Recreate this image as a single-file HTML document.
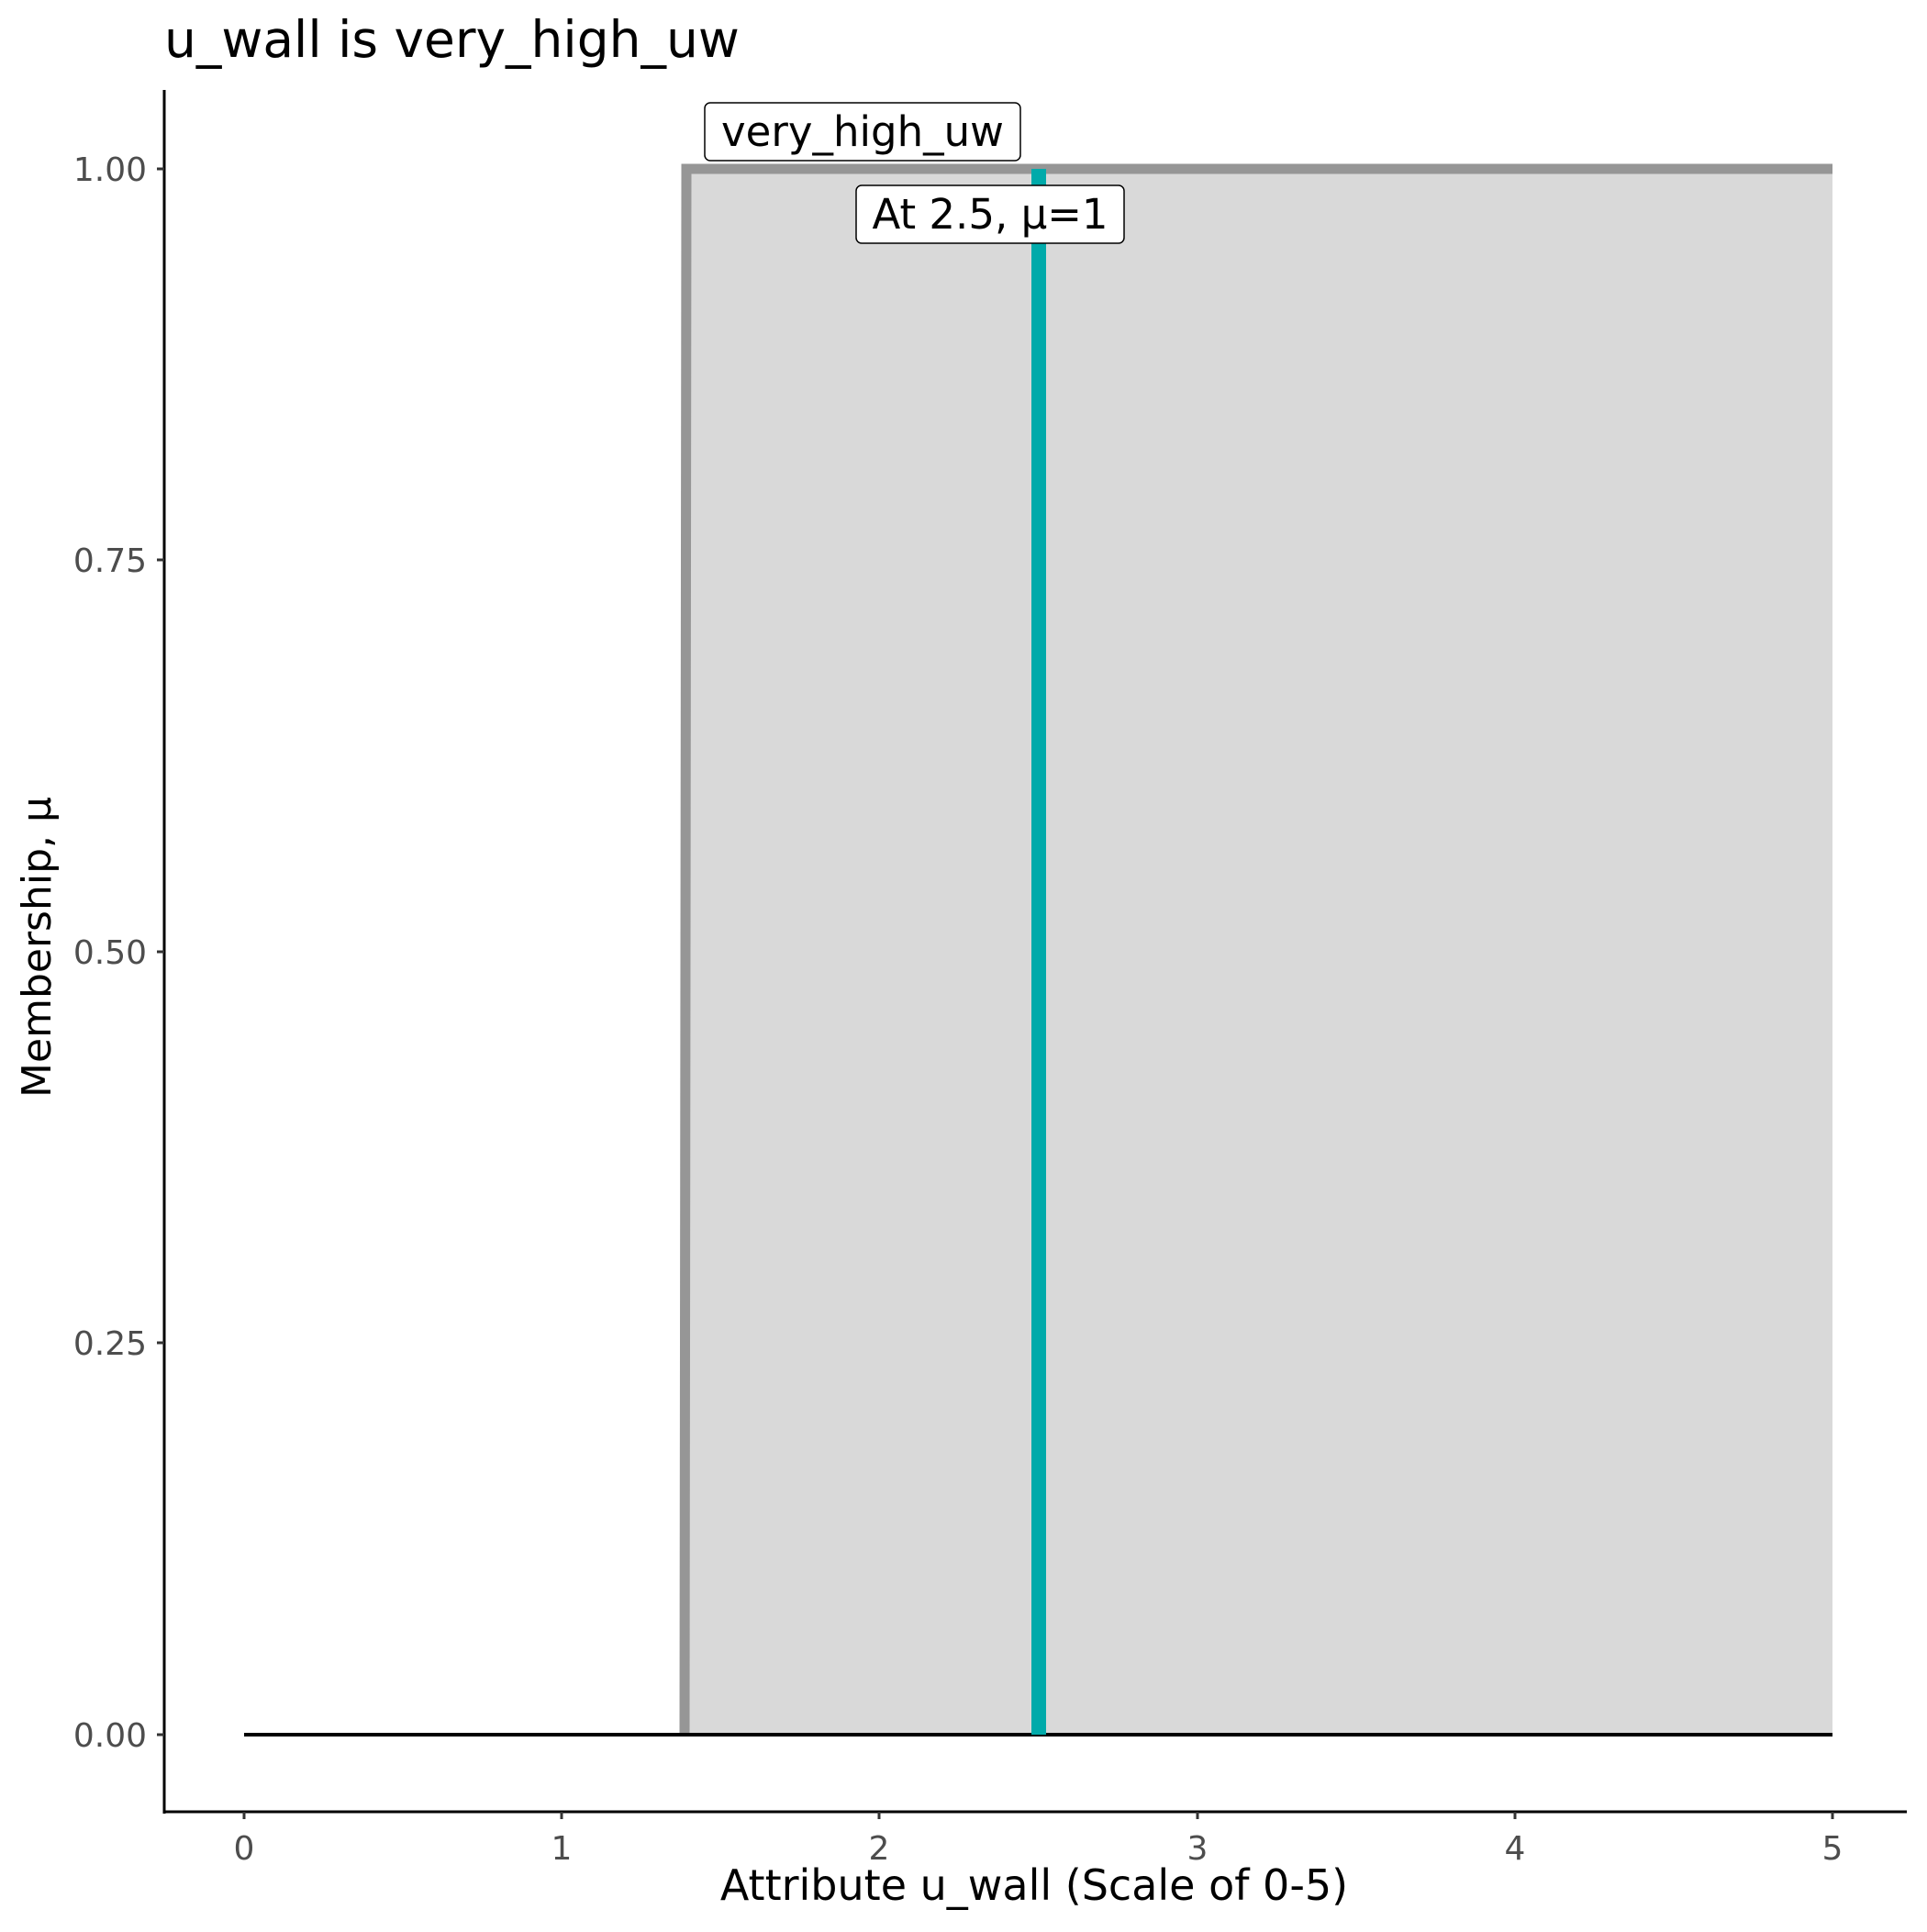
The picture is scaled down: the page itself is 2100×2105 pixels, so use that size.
<!DOCTYPE html>
<html><head><meta charset="utf-8"><style>body{margin:0;background:#fff}</style></head><body>
<svg width="2100" height="2100" xmlns="http://www.w3.org/2000/svg" font-family="DejaVu Sans, Liberation Sans, sans-serif">
<rect width="2100" height="2100" fill="#fff"/>
<text x="179" y="62" font-size="55" fill="#000">u_wall is very_high_uw</text>
<rect x="747" y="184" width="1250" height="1706" fill="#d9d9d9"/>
<polyline points="746,1890 748,184 1997,184" fill="none" stroke="#969696" stroke-width="11"/>
<line x1="266" y1="1890" x2="1997" y2="1890" stroke="#000" stroke-width="4"/>
<line x1="1132" y1="184" x2="1132" y2="1890" stroke="#00aaaa" stroke-width="16"/>
<rect x="768" y="112" width="344" height="63" rx="6" fill="#fff" stroke="#000" stroke-width="1.5"/>
<text x="940" y="159" font-size="45" text-anchor="middle">very_high_uw</text>
<rect x="933" y="202" width="292" height="63" rx="6" fill="#fff" stroke="#000" stroke-width="1.5"/>
<text x="1079" y="249" font-size="45" text-anchor="middle">At 2.5, μ=1</text>
<line x1="179" y1="98" x2="179" y2="1976" stroke="#000" stroke-width="3"/>
<line x1="178" y1="1974" x2="2078" y2="1974" stroke="#000" stroke-width="3"/>
<g stroke="#333" stroke-width="3">
<line x1="171" y1="184" x2="179" y2="184"/><line x1="171" y1="610" x2="179" y2="610"/><line x1="171" y1="1037" x2="179" y2="1037"/><line x1="171" y1="1463" x2="179" y2="1463"/><line x1="171" y1="1890" x2="179" y2="1890"/>
<line x1="266" y1="1974" x2="266" y2="1982"/><line x1="612" y1="1974" x2="612" y2="1982"/><line x1="958" y1="1974" x2="958" y2="1982"/><line x1="1305" y1="1974" x2="1305" y2="1982"/><line x1="1651" y1="1974" x2="1651" y2="1982"/><line x1="1997" y1="1974" x2="1997" y2="1982"/>
</g>
<g font-size="36" fill="#4d4d4d" text-anchor="end">
<text x="160" y="197">1.00</text><text x="160" y="623">0.75</text><text x="160" y="1050">0.50</text><text x="160" y="1476">0.25</text><text x="160" y="1903">0.00</text>
</g>
<g font-size="36" fill="#4d4d4d" text-anchor="middle">
<text x="266" y="2026">0</text><text x="612" y="2026">1</text><text x="958" y="2026">2</text><text x="1305" y="2026">3</text><text x="1651" y="2026">4</text><text x="1997" y="2026">5</text>
</g>
<text x="1127" y="2070" font-size="46" text-anchor="middle">Attribute u_wall (Scale of 0-5)</text>
<text transform="translate(55,1032) rotate(-90)" font-size="44" text-anchor="middle">Membership, μ</text>
</svg>
</body></html>
